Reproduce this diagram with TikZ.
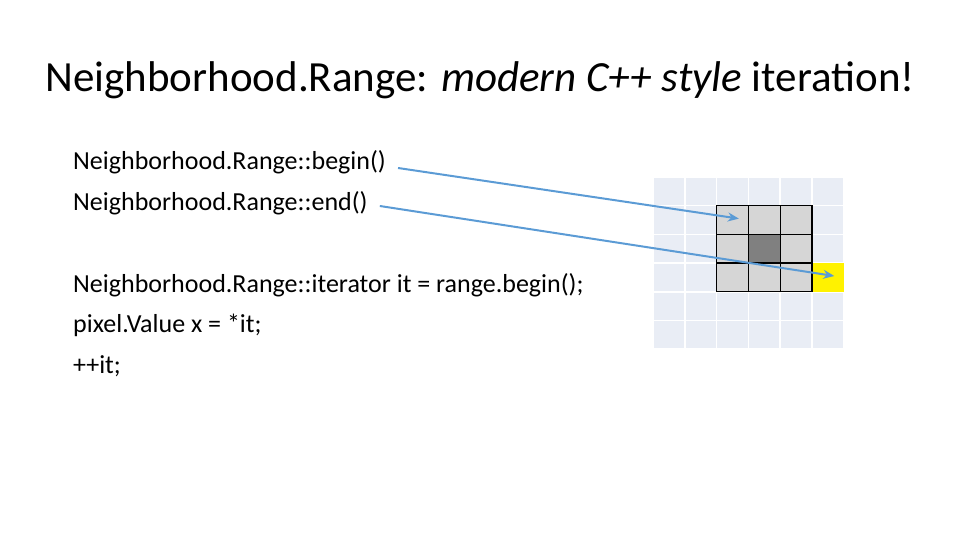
\documentclass[tikz,border=0pt]{standalone}
\usepackage{fontspec}
\setmainfont{Carlito}
\usetikzlibrary{positioning, arrows.meta}

\definecolor{cellbg}{RGB}{233,237,245}
\definecolor{arrowblue}{RGB}{91,155,213}

\tikzset{
  codeline/.style={anchor=west, inner sep=0pt, font=\fontsize{26}{30}\selectfont},
  pointer/.style={-{Stealth[length=11pt,width=9pt]}, draw=arrowblue, line width=2pt},
}

\begin{document}
\begin{tikzpicture}[x=1pt,y=-1pt]

\useasboundingbox (0,0) rectangle (960,540);

\def\cw{31.8}
\def\ch{28.7}
\def\gx{653}
\def\gy{177}

% background grid
\foreach \i in {0,...,5} {
  \foreach \j in {0,...,5} {
    \fill[cellbg, draw=white, line width=1.5pt] (\gx+\i*\cw,\gy+\j*\ch) rectangle ++(\cw,\ch);
  }
}

% neighborhood
\foreach \i in {2,3,4} {
  \foreach \j in {1,2,3} {
    \draw[fill=black!16, line width=1.3pt] (\gx+\i*\cw,\gy+\j*\ch) rectangle ++(\cw,\ch);
  }
}
\draw[fill=black!50, line width=1.3pt] (\gx+3*\cw,\gy+2*\ch) rectangle ++(\cw,\ch);
\fill[yellow] (\gx+5*\cw+0.7,\gy+3*\ch) rectangle ++(\cw-0.7,\ch);
\draw[line width=1.3pt] (\gx+5*\cw,\gy+3*\ch) -- ++(0,\ch);

\coordinate (first) at (\gx+2.7*\cw,\gy+1.45*\ch);
\coordinate (past) at (\gx+5.7*\cw,\gy+3.45*\ch);

% title
\node[font=\fontsize{43}{50}\selectfont] (title) at (480,80)
  {Neighborhood.Range: \textit{modern C++ style} iteration!};

% code
\node[codeline] (lbegin) at (73,162) {Neighborhood.Range::begin()};
\node[codeline] (lend) at (73,203) {Neighborhood.Range::end()};
\node[codeline] (liter) at (73,285) {Neighborhood.Range::iterator it = range.begin();};
\node[codeline] (lval) at (73,325) {pixel.Value x = *it;};
\node[codeline] (linc) at (73,366) {++it;};

\draw[pointer] ([xshift=12pt,yshift=-6pt]lbegin.east) -- (first);
\draw[pointer] ([xshift=12pt,yshift=-3pt]lend.east) -- (past);

\end{tikzpicture}
\end{document}
